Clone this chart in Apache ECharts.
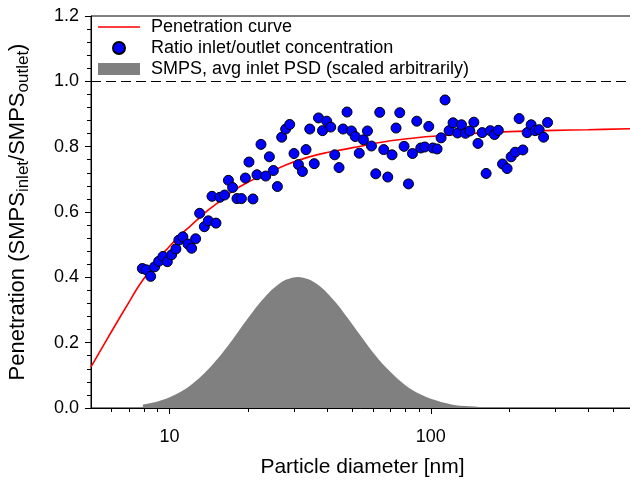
<!DOCTYPE html>
<html><head><meta charset="utf-8">
<script src="https://cdn.jsdelivr.net/npm/echarts@6/dist/echarts.min.js"></script>
<style>html,body{margin:0;padding:0;background:#fff}#c{width:630px;height:482px}</style>
</head><body><div id="c"></div>
<script>
// Penetration curve (fit) — diameter [nm], penetration
const curveX = [5, 6, 7, 7.5, 8, 9, 10, 11, 12, 13, 14, 15, 17, 20, 24, 28, 34, 40, 46, 55, 70, 85, 110, 140, 200, 300, 400, 600];
const curveY = [0.126, 0.235, 0.325, 0.365, 0.398, 0.455, 0.495, 0.530, 0.557, 0.582, 0.605, 0.623, 0.658, 0.692, 0.720, 0.745, 0.768, 0.782, 0.791, 0.803, 0.818, 0.826, 0.834, 0.840, 0.846, 0.850, 0.852, 0.855];

// Ratio inlet/outlet concentration
const ratioX = [7.86, 8.14, 8.46, 8.76, 9.08, 9.43, 9.80, 10.18, 10.57, 10.85,
  11.24, 11.75, 12.14, 12.58, 13.03, 13.58, 14.07, 15.05, 14.53, 15.58,
  16.24, 16.79, 17.43, 18.11, 18.83, 19.50, 20.13, 20.85, 21.60, 22.38,
  23.33, 24.10, 24.96, 25.86, 26.86, 27.82, 28.83, 29.94, 31.13, 32.25,
  33.29, 34.40, 35.79, 37.17, 38.50, 39.95, 41.39, 42.88, 44.54, 46.13,
  47.79, 49.68, 51.37, 53.22, 55.22, 57.21, 59.27, 61.56, 63.77, 66.06,
  68.43, 71.08, 73.63, 76.07, 79.02, 82.15, 85.10, 88.39, 91.57, 94.85,
  98.24, 101.8, 105.7, 109.5, 113.4, 117.5, 121.7, 126.6, 131.1, 135.8,
  141.1, 146.2, 151.6, 157.3, 162.9, 169.0, 175.4, 181.4, 188.3, 196.0,
  203.1, 210.4, 217.9, 225.2, 233.9, 242.3, 250.9, 260.0, 270.3, 280.0];
const ratioY = [0.427, 0.423, 0.403, 0.432, 0.449, 0.464, 0.448, 0.469, 0.487, 0.514,
  0.524, 0.502, 0.489, 0.518, 0.596, 0.555, 0.573, 0.566, 0.648, 0.645,
  0.652, 0.697, 0.675, 0.641, 0.641, 0.704, 0.753, 0.640, 0.714, 0.807,
  0.710, 0.769, 0.727, 0.678, 0.829, 0.854, 0.868, 0.779, 0.745, 0.724,
  0.791, 0.854, 0.748, 0.888, 0.849, 0.878, 0.860, 0.775, 0.736, 0.854,
  0.906, 0.848, 0.831, 0.780, 0.821, 0.848, 0.802, 0.717, 0.905, 0.791,
  0.707, 0.775, 0.857, 0.904, 0.801, 0.686, 0.779, 0.878, 0.796, 0.799,
  0.862, 0.796, 0.793, 0.827, 0.943, 0.849, 0.873, 0.842, 0.867, 0.841,
  0.848, 0.875, 0.810, 0.843, 0.718, 0.849, 0.837, 0.850, 0.747, 0.733,
  0.769, 0.783, 0.886, 0.790, 0.843, 0.867, 0.849, 0.852, 0.829, 0.874];

// SMPS average inlet PSD (scaled arbitrarily)
const psdX = [7.9, 9, 10, 11, 12, 13, 14, 15, 16, 17, 18.5, 20, 22, 24, 26, 28, 31, 34, 37, 40, 44, 48, 53, 60, 67, 75, 85, 100, 120, 140, 170, 220, 285];
const psdY = [0.0105, 0.020, 0.033, 0.049, 0.069, 0.092, 0.117, 0.144, 0.171, 0.198, 0.239, 0.276, 0.319, 0.353, 0.377, 0.393, 0.401, 0.394, 0.377, 0.353, 0.316, 0.276, 0.229, 0.171, 0.126, 0.088, 0.055, 0.028, 0.011, 0.005, 0.0015, 0.0004, 0.0001];

const refLine = 1.0;
const xMin = 5, xMax = 600;
const xMinorTicks = [6, 7, 8, 9, 20, 30, 40, 50, 60, 70, 80, 90, 200, 300, 400, 500];
const yMin = 0, yMax = 1.2, yStep = 0.2;

const names = ['Penetration curve', 'Ratio inlet/outlet concentration', 'SMPS, avg inlet PSD (scaled arbitrarily)'];
const FONT = 'Liberation Sans, Arial, Helvetica, sans-serif';

const zip = (a, b) => a.map((v, i) => [v, b[i]]);
const lineIcon = 'path://M0,0L0.02,0L0,0.02Z M0,5.2L42,5.2L42,6.8L0,6.8Z M42,12L41.98,12L42,11.98Z';

const chart = echarts.init(document.getElementById('c'), null, {renderer: 'canvas'});
chart.setOption({
  animation: false,
  backgroundColor: '#fff',
  textStyle: {fontFamily: FONT},
  grid: {left: 91, right: -4, top: 16, bottom: 74, show: true, borderColor: '#000', borderWidth: 1, backgroundColor: 'transparent', outerBoundsMode: 'none', containLabel: false},
  legend: {
    orient: 'vertical', left: 98, top: 17, padding: 0, itemGap: 1,
    itemWidth: 42, itemHeight: 12, selectedMode: false,
    textStyle: {fontSize: 18, fontFamily: FONT, color: '#000', lineHeight: 20, padding: [0, 0, 0, 6]},
    data: [
      {name: names[0], icon: lineIcon, itemStyle: {color: '#ff0000', borderWidth: 0}},
      {name: names[1], icon: 'circle'},
      {name: names[2], icon: 'rect', itemStyle: {color: '#808080', borderWidth: 0}}
    ]
  },
  xAxis: [{
    type: 'log', logBase: 10, min: xMin, max: xMax, position: 'bottom',
    name: 'Particle diameter [nm]', nameLocation: 'middle', nameGap: 49,
    nameTextStyle: {fontSize: 21, fontFamily: FONT, color: '#000'},
    axisLine: {lineStyle: {color: '#000', width: 1}},
    axisTick: {show: true, inside: false, length: 6, lineStyle: {color: '#000'}},
    minorTick: {show: false},
    axisLabel: {fontSize: 18, fontFamily: FONT, color: '#000', margin: 20, showMinLabel: false, showMaxLabel: false},
    splitLine: {show: false}
  }, {
    type: 'value', min: Math.log10(xMin), max: Math.log10(xMax), position: 'bottom',
    axisLine: {show: false},
    axisTick: {show: true, inside: false, length: 4, lineStyle: {color: '#000'}, customValues: xMinorTicks.map(Math.log10)},
    axisLabel: {show: false},
    splitLine: {show: false}
  }],
  yAxis: {
    type: 'value', min: yMin, max: yMax, interval: yStep,
    name: '{a|Penetration (SMPS}{s|inlet}{a|/SMPS}{s|outlet}{a|)}',
    nameLocation: 'middle', nameRotate: 90, nameGap: 59,
    nameTextStyle: {fontFamily: FONT, color: '#000', rich: {
      a: {fontSize: 22, lineHeight: 29, fontFamily: FONT, color: '#000'},
      s: {fontSize: 17, lineHeight: 17, verticalAlign: 'bottom', fontFamily: FONT, color: '#000'}
    }},
    axisLine: {show: true, lineStyle: {color: '#000', width: 1}},
    axisTick: {show: true, inside: false, length: 6, lineStyle: {color: '#000'}},
    minorTick: {show: true, splitNumber: 5, length: 4, lineStyle: {color: '#000'}},
    axisLabel: {fontSize: 18, fontFamily: FONT, color: '#000', margin: 12, formatter: v => v.toFixed(1)},
    splitLine: {show: false}
  },
  series: [{
    name: names[2], type: 'line', xAxisIndex: 0, data: zip(psdX, psdY), smooth: 0.3,
    symbol: 'none', z: 1,
    itemStyle: {color: '#808080'},
    lineStyle: {width: 0, color: '#808080'},
    areaStyle: {color: '#808080', opacity: 1}
  }, {
    name: names[0], type: 'line', xAxisIndex: 0, data: zip(curveX, curveY), smooth: 0.4,
    symbol: 'none', z: 2,
    itemStyle: {color: '#ff0000'},
    lineStyle: {color: '#ff0000', width: 1.6},
    markLine: {silent: true, symbol: ['none', 'none'], label: {show: false},
      lineStyle: {color: '#000', type: [10, 5], width: 1}, data: [{yAxis: refLine}]}
  }, {
    name: names[1], type: 'scatter', xAxisIndex: 0, data: zip(ratioX, ratioY),
    symbol: 'circle', symbolSize: 10, z: 3,
    itemStyle: {color: '#0000ff', borderColor: '#000', borderWidth: 1, opacity: 1}
  }]
});
</script></body></html>
